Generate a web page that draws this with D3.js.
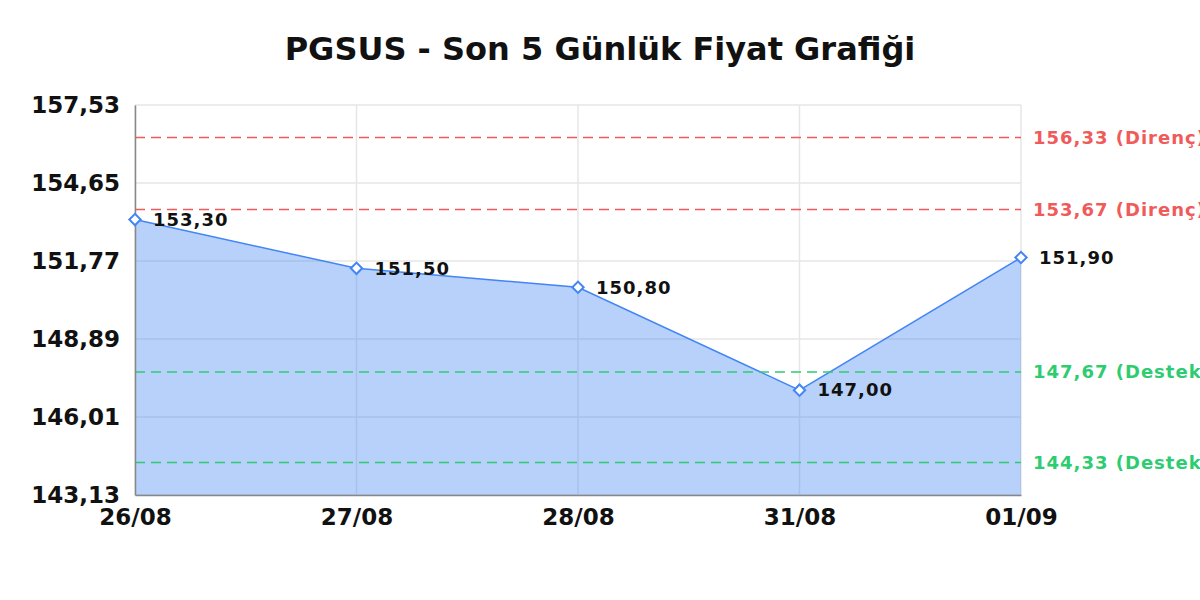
<!DOCTYPE html>
<html>
<head>
<meta charset="utf-8">
<script src="https://cdn.jsdelivr.net/npm/d3@7"></script>
<style>
  body { margin: 0; background: #fff; }
  svg { font-family: "DejaVu Sans", sans-serif; }
</style>
</head>
<body>
<div id="chart"></div>
<script>
// Data
const dates = ['26/08', '27/08', '28/08', '31/08', '01/09'];
const prices = [153.30, 151.50, 150.80, 147.00, 151.90];
const yTicks = [143.13, 146.01, 148.89, 151.77, 154.65, 157.53];
const resistance = [156.33, 153.67];
const support = [147.67, 144.33];

const fmt = v => v.toFixed(2).replace('.', ',');

// Layout
const margin = { top: 105, right: 179, bottom: 105, left: 135 };
const width = 1200 - margin.left - margin.right;
const height = 600 - margin.top - margin.bottom;

const svg = d3.select('#chart')
  .append('svg')
  .attr('width', 1200)
  .attr('height', 600);

const g = svg.append('g')
  .attr('transform', `translate(${margin.left}, ${margin.top})`);

// Scales
const xScale = d3.scalePoint().domain(dates).range([0, width]);
const yScale = d3.scaleLinear().domain([yTicks[0], yTicks[yTicks.length - 1]]).range([height, 0]);

// Grid
g.append('g')
  .selectAll('line')
  .data(yTicks)
  .join('line')
  .attr('x1', 0).attr('x2', width)
  .attr('y1', d => yScale(d)).attr('y2', d => yScale(d))
  .attr('stroke', '#e6e6e6').attr('stroke-width', 1.5);

g.append('g')
  .selectAll('line')
  .data(dates)
  .join('line')
  .attr('x1', d => xScale(d)).attr('x2', d => xScale(d))
  .attr('y1', 0).attr('y2', height)
  .attr('stroke', '#e6e6e6').attr('stroke-width', 1.5);

// Area + line
const pts = dates.map((d, i) => ({ date: d, value: prices[i] }));

g.append('path')
  .datum(pts)
  .attr('fill', 'rgba(66,133,244,0.38)')
  .attr('d', d3.area()
    .x(d => xScale(d.date))
    .y0(height)
    .y1(d => yScale(d.value)));

g.append('path')
  .datum(pts)
  .attr('fill', 'none')
  .attr('stroke', '#4285f4')
  .attr('stroke-width', 1.5)
  .attr('d', d3.line()
    .x(d => xScale(d.date))
    .y(d => yScale(d.value)));

// Support / resistance lines (labels run off the right edge, as in the original)
const levels = resistance.map(v => ({ v, label: 'Direnç', color: '#f05a5a' }))
  .concat(support.map(v => ({ v, label: 'Destek', color: '#2ecc71' })));

g.append('g')
  .selectAll('line')
  .data(levels)
  .join('line')
  .attr('x1', 0).attr('x2', width)
  .attr('y1', d => yScale(d.v)).attr('y2', d => yScale(d.v))
  .attr('stroke', d => d.color)
  .attr('stroke-width', 1.5)
  .attr('stroke-dasharray', '10,6');

g.append('g')
  .selectAll('text')
  .data(levels)
  .join('text')
  .attr('x', width + 12)
  .attr('y', d => yScale(d.v))
  .attr('dy', '0.35em')
  .attr('fill', d => d.color)
  .attr('font-size', 18)
  .attr('letter-spacing', 1)
  .attr('font-weight', 'bold')
  .text(d => `${fmt(d.v)} (${d.label})`);

// Axes
const yAxis = d3.axisLeft(yScale).tickValues(yTicks).tickSize(0).tickPadding(15).tickFormat(fmt);
const xAxis = d3.axisBottom(xScale).tickSize(0).tickPadding(14);

const yg = g.append('g').call(yAxis).attr('font-family', null);
yg.select('.domain').attr('stroke', '#888').attr('stroke-width', 1.5);
yg.selectAll('text').attr('font-size', 23).attr('font-weight', 'bold').attr('fill', '#111');

const xg = g.append('g').attr('transform', `translate(0, ${height})`).call(xAxis).attr('font-family', null);
xg.select('.domain').attr('stroke', '#888').attr('stroke-width', 1.5);
xg.selectAll('text').attr('font-size', 23).attr('font-weight', 'bold').attr('fill', '#111');

// Markers
g.append('g')
  .selectAll('path')
  .data(pts)
  .join('path')
  .attr('transform', d => `translate(${xScale(d.date)}, ${yScale(d.value)}) rotate(45)`)
  .attr('d', 'M-4,-4H4V4H-4Z')
  .attr('fill', '#fff')
  .attr('stroke', '#4285f4')
  .attr('stroke-width', 2);

// Value labels
g.append('g')
  .selectAll('text')
  .data(pts)
  .join('text')
  .attr('x', d => xScale(d.date) + 18)
  .attr('y', d => yScale(d.value))
  .attr('dy', '0.35em')
  .attr('font-size', 18)
  .attr('letter-spacing', 1)
  .attr('font-weight', 'bold')
  .attr('fill', '#111')
  .text(d => fmt(d.value));

// Title
svg.append('text')
  .attr('x', 600)
  .attr('y', 60)
  .attr('text-anchor', 'middle')
  .attr('font-size', 32)
  .attr('font-weight', 'bold')
  .attr('fill', '#111')
  .text('PGSUS - Son 5 Günlük Fiyat Grafiği');
</script>
</body>
</html>
